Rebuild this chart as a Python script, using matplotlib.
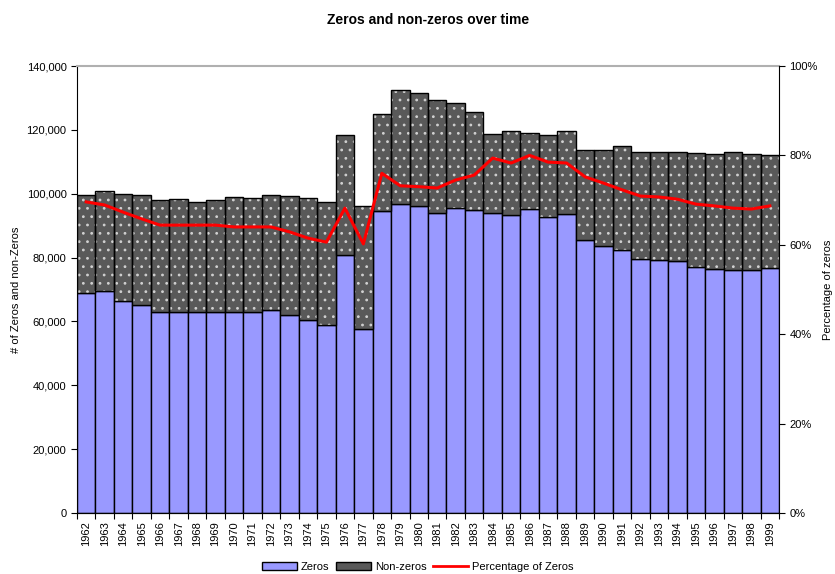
import numpy as np
import matplotlib.pyplot as plt
from matplotlib.patches import Patch
from matplotlib.lines import Line2D
from matplotlib.ticker import FuncFormatter

plt.rcParams['font.family'] = ['Liberation Sans', 'DejaVu Sans']
plt.rcParams['hatch.linewidth'] = 0.8

# Datos
years = list(range(1962, 2000))

zeros = [69000, 69500, 66500, 65000, 63000, 63000, 62800, 62800, 63000, 63000,
         63500, 62000, 60500, 59000, 80800, 57500, 94500, 96800, 96000, 94000,
         95500, 95000, 94000, 93300, 95300, 92600, 93500, 85500, 83500, 82500,
         79700, 79300, 79000, 77000, 76500, 76200, 76000, 76700]

totals = [99500, 101000, 100000, 99500, 98000, 98500, 97500, 98000, 99000, 98800,
          99500, 99200, 98800, 97500, 118500, 96000, 125000, 132500, 131500, 129500,
          128300, 125500, 118700, 119500, 119000, 118300, 119700, 113700, 113600, 115000,
          113200, 113200, 113200, 112700, 112500, 113000, 112500, 112200]

pct_zeros = [69.6, 68.9, 67.3, 65.8, 64.4, 64.4, 64.4, 64.4, 64.0, 64.0,
             64.0, 62.9, 61.5, 60.6, 68.2, 60.2, 76.0, 73.2, 73.0, 72.7,
             74.5, 75.6, 79.4, 78.3, 80.0, 78.5, 78.3, 75.2, 73.8, 72.3,
             70.9, 70.7, 70.2, 69.1, 68.7, 68.2, 68.0, 68.7]

nonzeros = [t - z for t, z in zip(totals, zeros)]
x = np.arange(len(years))

fig = plt.figure(figsize=(8.35, 5.74), dpi=100)
ax = fig.add_axes([0.0922, 0.1063, 0.8408, 0.7787])

# barras
ax.bar(x, zeros, width=1.0, color='#9999FF', edgecolor='black', linewidth=1.0)
ax.bar(x, nonzeros, bottom=zeros, width=1.0, color='#595959',
       edgecolor='#d0d0d0', hatch='..', linewidth=0)
ax.bar(x, nonzeros, bottom=zeros, width=1.0, fill=False,
       edgecolor='black', linewidth=1.0)

ax.set_xlim(-0.5, len(years) - 0.5)
ax.set_ylim(0, 140000)
ax.set_yticks(np.arange(0, 140001, 20000))
ax.yaxis.set_major_formatter(FuncFormatter(lambda v, p: f"{int(v):,}"))

# ticks entre categorias
ax.set_xticks(np.arange(-0.5, len(years), 1.0))
ax.set_xticklabels([])
ax.set_xticks(x, minor=True)
ax.set_xticklabels([str(y) for y in years], minor=True, rotation=90, fontsize=8)
ax.tick_params(axis='x', which='minor', length=0, pad=6)
ax.tick_params(axis='x', which='major', length=4, direction='out')
ax.tick_params(axis='y', labelsize=8, length=4, direction='out')

ax.spines['top'].set_color('#b0b0b0')
ax.spines['top'].set_linewidth(1.5)
ax.spines['right'].set_visible(False)
ax.set_ylabel("# of Zeros and non-Zeros", fontsize=8)

# eje derecho
ax2 = ax.twinx()
ax2.plot(x, pct_zeros, color='red', linewidth=2.2)
ax2.set_ylim(0, 100)
ax2.set_yticks(np.arange(0, 101, 20))
ax2.yaxis.set_major_formatter(FuncFormatter(lambda v, p: f"{int(v)}%"))
ax2.tick_params(axis='y', labelsize=8, length=4, direction='out')
ax2.spines['top'].set_visible(False)
ax2.spines['left'].set_visible(False)
ax2.set_ylabel("Percentage of zeros", fontsize=8)

ax.set_title("Zeros and non-zeros over time", fontsize=10, fontweight='bold', pad=30)

handles = [
    Patch(facecolor='#9999FF', edgecolor='black', label='Zeros'),
    Patch(facecolor='#595959', edgecolor='black', label='Non-zeros'),
    Line2D([0], [0], color='red', linewidth=2, label='Percentage of Zeros'),
]
fig.legend(handles=handles, loc='center', bbox_to_anchor=(0.5, 0.013), ncol=3,
           frameon=False, fontsize=8, handlelength=3.2, handleheight=0.7,
           columnspacing=0.6, handletextpad=0.3)

fig.savefig("out.png", dpi=100)
